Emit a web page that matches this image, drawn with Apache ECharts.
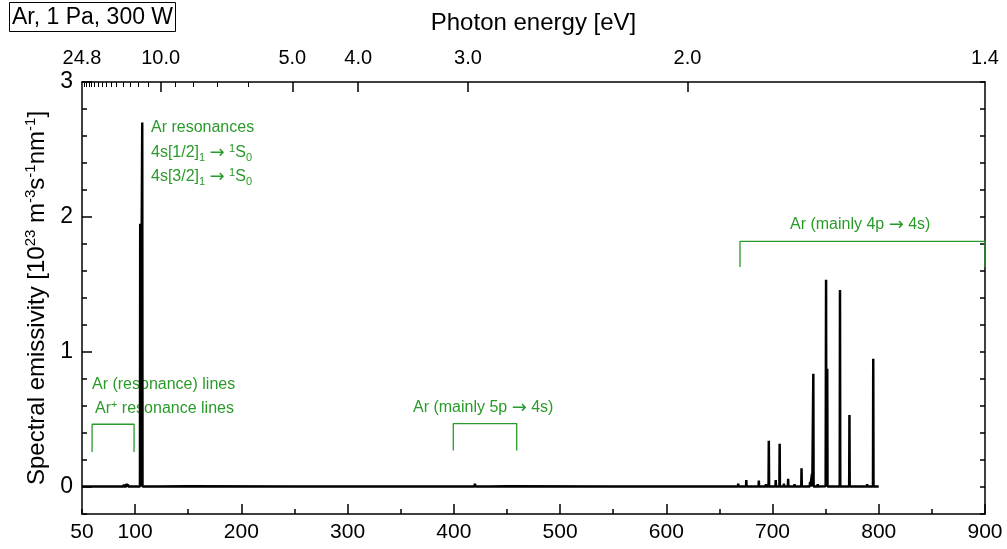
<!DOCTYPE html>
<html>
<head>
<meta charset="utf-8">
<script src="https://cdn.jsdelivr.net/npm/echarts@6/dist/echarts.min.js"></script>
<style>
  html, body { margin: 0; padding: 0; background: #fff; }
  #chart { width: 1007px; height: 549px; }
</style>
</head>
<body>
<div id="chart"></div>
<script>
const HC = 1239.84; // eV*nm

// emission lines: wavelength [nm] and peak height [1e23 m-3 s-1 nm-1]
const lineNm  = [72.6, 86.8, 89.5, 92.0, 93.2, 104.8, 106.7, 120.6, 415.9, 419.8, 420.1, 425.9, 427.2, 433.4, 451.1,
                 546.1, 591.2, 603.2, 641.6, 667.7, 675.3, 687.1, 693.8, 696.5, 703.0, 706.7, 710.7, 714.7, 720.7,
                 727.3, 731.2, 735.3, 737.2, 738.4, 742.5, 750.4, 751.5, 763.5, 772.4, 774.5, 789.1, 794.8];
const lineVal = [0.012, 0.015, 0.020, 0.025, 0.020, 1.95, 2.70, 0.010, 0.018, 0.025, 0.020, 0.015, 0.012, 0.008, 0.008,
                 0.015, 0.008, 0.015, 0.012, 0.025, 0.052, 0.047, 0.022, 0.343, 0.052, 0.320, 0.025, 0.060, 0.022,
                 0.139, 0.017, 0.037, 0.099, 0.838, 0.022, 1.535, 0.875, 1.460, 0.534, 0.015, 0.022, 0.950];
// continuum between the lines
const baseNm  = [50, 150, 250, 350, 450, 550, 650, 750, 800];
const baseVal = [0.004, 0.005, 0.004, 0.004, 0.005, 0.004, 0.004, 0.005, 0.004];

// axis ticks
const xLabels     = [50, 100, 200, 300, 400, 500, 600, 700, 800, 900];
const xMajor      = [100, 200, 300, 400, 500, 600, 700, 800, 900];
const yLabels     = [0, 1, 2, 3];
const topMajorEv  = [10, 5, 4, 3, 2];
const topMinorEv  = [24, 23, 22, 21, 20, 19, 18, 17, 16, 15, 14, 13, 12, 11, 9, 8, 7, 6];

// annotation brackets (nm, value)
const bracketRes = [[59.5, 0.26], [59.5, 0.465], [99, 0.465], [99, 0.26]];
const bracket5p  = [[399.5, 0.27], [399.5, 0.47], [459.2, 0.47], [459.2, 0.27]];
const bracket4p  = [[669.4, 1.63], [669.4, 1.82], [900, 1.82], [900, 1.63]];

const FONT = 'Liberation Sans, Arial, sans-serif';
const GREEN = '#2a9a2a';

// build spectrum: baseline plus narrow spikes
let pts = baseNm.map((x, i) => [x, baseVal[i]]);
lineNm.forEach((x, i) => {
  pts.push([x - 0.25, 0.004], [x, lineVal[i]], [x + 0.25, 0.004]);
});
pts.sort((a, b) => a[0] - b[0]);

const topLabelPos = [50].concat(topMajorEv.map(e => HC / e), [900]);

const chart = echarts.init(document.getElementById('chart'));

const sub = { fontSize: 11, fontFamily: FONT, verticalAlign: 'bottom', lineHeight: 20 };
const sup = { fontSize: 11, fontFamily: FONT, verticalAlign: 'top', lineHeight: 20 };
const arr = { fontSize: 18, fontFamily: 'DejaVu Sans', lineHeight: 20 };

function note(text, left, top) {
  return {
    type: 'text', left: left, top: top,
    style: {
      text: text, fill: GREEN, font: '16px ' + FONT,
      rich: { sub: sub, sup: sup, arr: arr }
    }
  };
}

const tickTxt = { color: '#000', fontSize: 20, fontFamily: FONT };
const line = { show: true, onZero: false, lineStyle: { color: '#000', width: 1.5 } };

chart.setOption({
  animation: false,
  backgroundColor: '#fff',
  title: {
    text: 'Ar, 1 Pa, 300 W', left: 9, top: 2,
    borderColor: '#000', borderWidth: 1, padding: [4, 3, 3, 3],
    textStyle: { fontSize: 23, fontWeight: 'normal', color: '#000', fontFamily: FONT }
  },
  grid: { left: 82, right: 22, top: 82, bottom: 35 },
  xAxis: [{
    type: 'value', position: 'bottom', min: 50, max: 900, interval: 50,
    axisLine: line, splitLine: { show: false },
    axisTick: { inside: true, length: 5, lineStyle: { color: '#000', width: 1.5 } },
    axisLabel: { customValues: xLabels, margin: 8, color: '#000', fontSize: 21, fontFamily: FONT }
  }, {
    type: 'value', position: 'bottom', min: 50, max: 900,
    axisLine: { show: false, onZero: false }, splitLine: { show: false },
    axisTick: { inside: true, length: 10, customValues: xMajor, lineStyle: { color: '#000', width: 1.5 } },
    axisLabel: { show: false }
  }, {
    type: 'value', position: 'top', min: 50, max: 900,
    name: 'Photon energy [eV]', nameLocation: 'middle', nameGap: 47,
    nameTextStyle: { color: '#000', fontSize: 24, fontFamily: FONT },
    axisLine: line, splitLine: { show: false },
    axisTick: { inside: true, length: 10, customValues: topMajorEv.map(e => HC / e), lineStyle: { color: '#000', width: 1.5 } },
    axisLabel: { customValues: topLabelPos, margin: 14, formatter: v => (HC / v).toFixed(1), ...tickTxt }
  }, {
    type: 'value', position: 'top', min: 50, max: 900,
    axisLine: { show: false, onZero: false }, splitLine: { show: false },
    axisTick: { inside: true, length: 5, customValues: topMinorEv.map(e => HC / e), lineStyle: { color: '#000', width: 1 } },
    axisLabel: { show: false }
  }],
  yAxis: [{
    type: 'value', position: 'left', min: -0.2, max: 3, interval: 0.2,
    name: 'Spectral emissivity [10{sup|23} m{sup|-3}s{sup|-1}nm{sup|-1}]',
    nameLocation: 'middle', nameGap: 27,
    nameTextStyle: { color: '#000', fontSize: 24, fontFamily: FONT,
      rich: { sup: { fontSize: 15, fontFamily: FONT, color: '#000', verticalAlign: 'top', lineHeight: 28 } } },
    axisLine: line, splitLine: { show: false },
    axisTick: { inside: true, length: 5, lineStyle: { color: '#000', width: 1.5 } },
    axisLabel: { customValues: yLabels, margin: 9, color: '#000', fontSize: 23, fontFamily: FONT }
  }, {
    type: 'value', position: 'left', min: -0.2, max: 3,
    axisLine: { show: false, onZero: false }, splitLine: { show: false },
    axisTick: { inside: true, length: 10, customValues: yLabels, lineStyle: { color: '#000', width: 1.5 } },
    axisLabel: { show: false }
  }, {
    type: 'value', position: 'right', min: -0.2, max: 3, interval: 0.2,
    axisLine: line, splitLine: { show: false },
    axisTick: { inside: true, length: 5, lineStyle: { color: '#000', width: 1.5 } },
    axisLabel: { show: false }
  }],
  series: [{
    type: 'line', data: pts, showSymbol: false, symbol: 'none', sampling: 'none',
    lineStyle: { color: '#000', width: 2.5 }, z: 3
  },
  ...[bracketRes, bracket5p, bracket4p].map(b => ({
    type: 'line', data: b, showSymbol: false, symbol: 'none',
    lineStyle: { color: GREEN, width: 1.3 }, z: 2
  }))],
  graphic: [
    note('Ar resonances', 151, 120),
    note('4s[1/2]{sub|1} {arr|\u2192} {sup|1}S{sub|0}', 151, 143),
    note('4s[3/2]{sub|1} {arr|\u2192} {sup|1}S{sub|0}', 151, 167),
    note('Ar (resonance) lines', 92, 377),
    note('Ar{sup|+} resonance lines', 95, 399),
    note('Ar (mainly 5p {arr|\u2192} 4s)', 413, 399),
    note('Ar (mainly 4p {arr|\u2192} 4s)', 790, 216)
  ]
});
</script>
</body>
</html>
